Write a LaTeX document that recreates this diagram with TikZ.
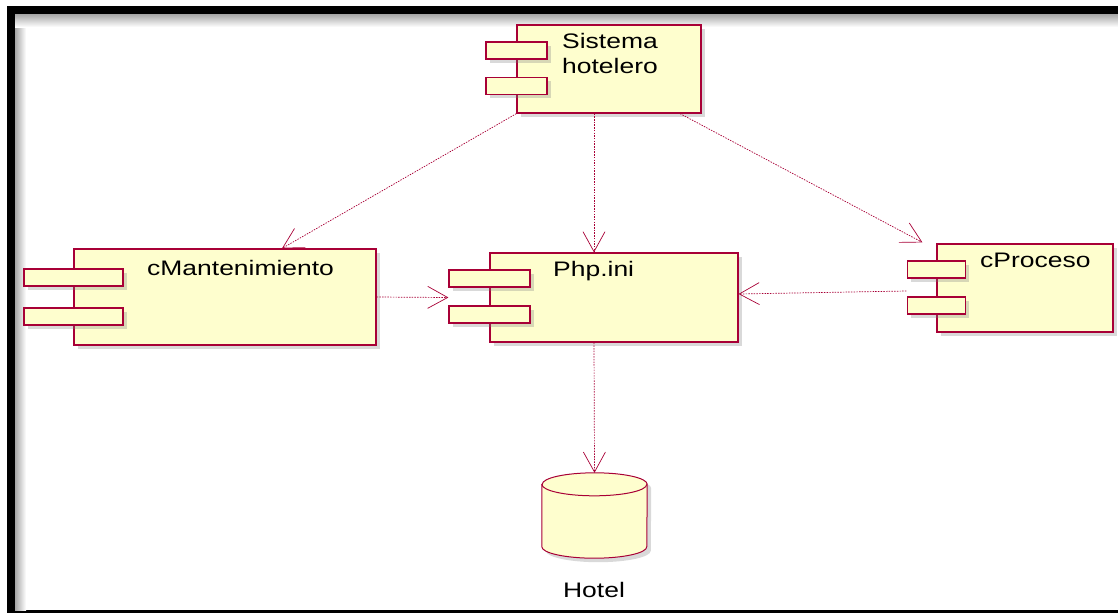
\documentclass[tikz,border=0pt]{standalone}
\usepackage{fontspec}
\newfontfamily\umlfont[FakeStretch=1.26]{Liberation Sans}
\usetikzlibrary{arrows.meta,shadows}
\definecolor{umlred}{HTML}{A80036}
\definecolor{umlfill}{HTML}{FEFECE}

\begin{document}
\begin{tikzpicture}[x=1pt,y=-1pt,
    comp/.style={draw=umlred,fill=umlfill,line width=1.2pt,inner sep=0pt,
        drop shadow={shadow xshift=4pt,shadow yshift=-4pt,opacity=0.3}},
    port/.style={comp,minimum height=17pt},
    lbl/.style={font=\umlfont\fontsize{21}{25}\selectfont,inner sep=0pt,anchor=base west,align=left},
    dep/.style={draw=umlred,line width=0.7pt,dash pattern=on 1.5pt off 1.2pt,
        -{Straight Barb[length=20pt,width=22pt,line width=0.7pt]}},
    lid/.style={x radius=52.5pt,y radius=11.5pt}]
    \useasboundingbox (0,0) rectangle (1118,613);
    % frame round the screenshot
    \fill[black] (7,6) rectangle (1118,14);
    \fill[black] (7,6) rectangle (15,613);
    \fill[black] (7,610) rectangle (1118,613);
    \shade[left color=black!35,right color=white] (15,14) rectangle (26,610);
    \shade[top color=black!35,bottom color=white] (15,14) rectangle (1118,27);

    % components
    \node[comp,minimum width=184pt,minimum height=88pt] (sis) at (609,69) {};
    \node[comp,minimum width=302pt,minimum height=96pt] (cman) at (225,297) {};
    \node[comp,minimum width=248pt,minimum height=89pt] (php) at (614,297.5) {};
    \node[comp,minimum width=176pt,minimum height=88pt] (cpro) at (1025,288) {};
    \foreach \b/\w/\ya/\yb in {sis/61/26/61.5, cman/99/29/68, php/81/26/62, cpro/58/26/62}{
        \node[port,minimum width=\w pt] (\b A) at ([yshift=-\ya pt]\b.north west) {};
        \node[port,minimum width=\w pt] (\b B) at ([yshift=-\yb pt]\b.north west) {};
    }
    \node[lbl] (sisT) at (562,73) {Sistema\\hotelero};
    \node[lbl] (cmanT) at (147,275) {cMantenimiento};
    \node[lbl] (phpT) at (553,276) {Php.ini};
    \node[lbl] (cproT) at (980,267) {cProceso};

    % database
    \node[inner sep=0pt,minimum width=105pt,minimum height=85pt] (db) at (594.5,515.5) {};
    \path[comp,line width=1pt] ([yshift=-11.5pt]db.north west) -- ([yshift=11.5pt]db.south west)
        arc[start angle=180,end angle=360,lid] -- ([yshift=-11.5pt]db.north east)
        arc[start angle=0,end angle=180,lid] -- cycle;
    \draw[umlred,line width=1pt] ([yshift=-11.5pt]db.north west) arc[start angle=180,end angle=360,lid];
    \node[lbl,anchor=base] (dbT) at (594,597) {Hotel};

    % dependencies
    \draw[dep] (sis.south west) -- ([xshift=57pt]cman.north);
    \draw[dep] ([xshift=-15pt]sis.south) -- ([xshift=-20pt]php.north);
    \draw[dep] ([xshift=71pt]sis.south) -- ([xshift=-14pt,yshift=1pt]cpro.north west);
    \draw[dep] (cman.east) -- ([xshift=-41pt]php.west);
    \draw[dep] ([xshift=-30pt,yshift=-3pt]cpro.west) -- ([yshift=3.5pt]php.east);
    \draw[dep] ([xshift=-20pt]php.south) -- (db.north);
\end{tikzpicture}
\end{document}
